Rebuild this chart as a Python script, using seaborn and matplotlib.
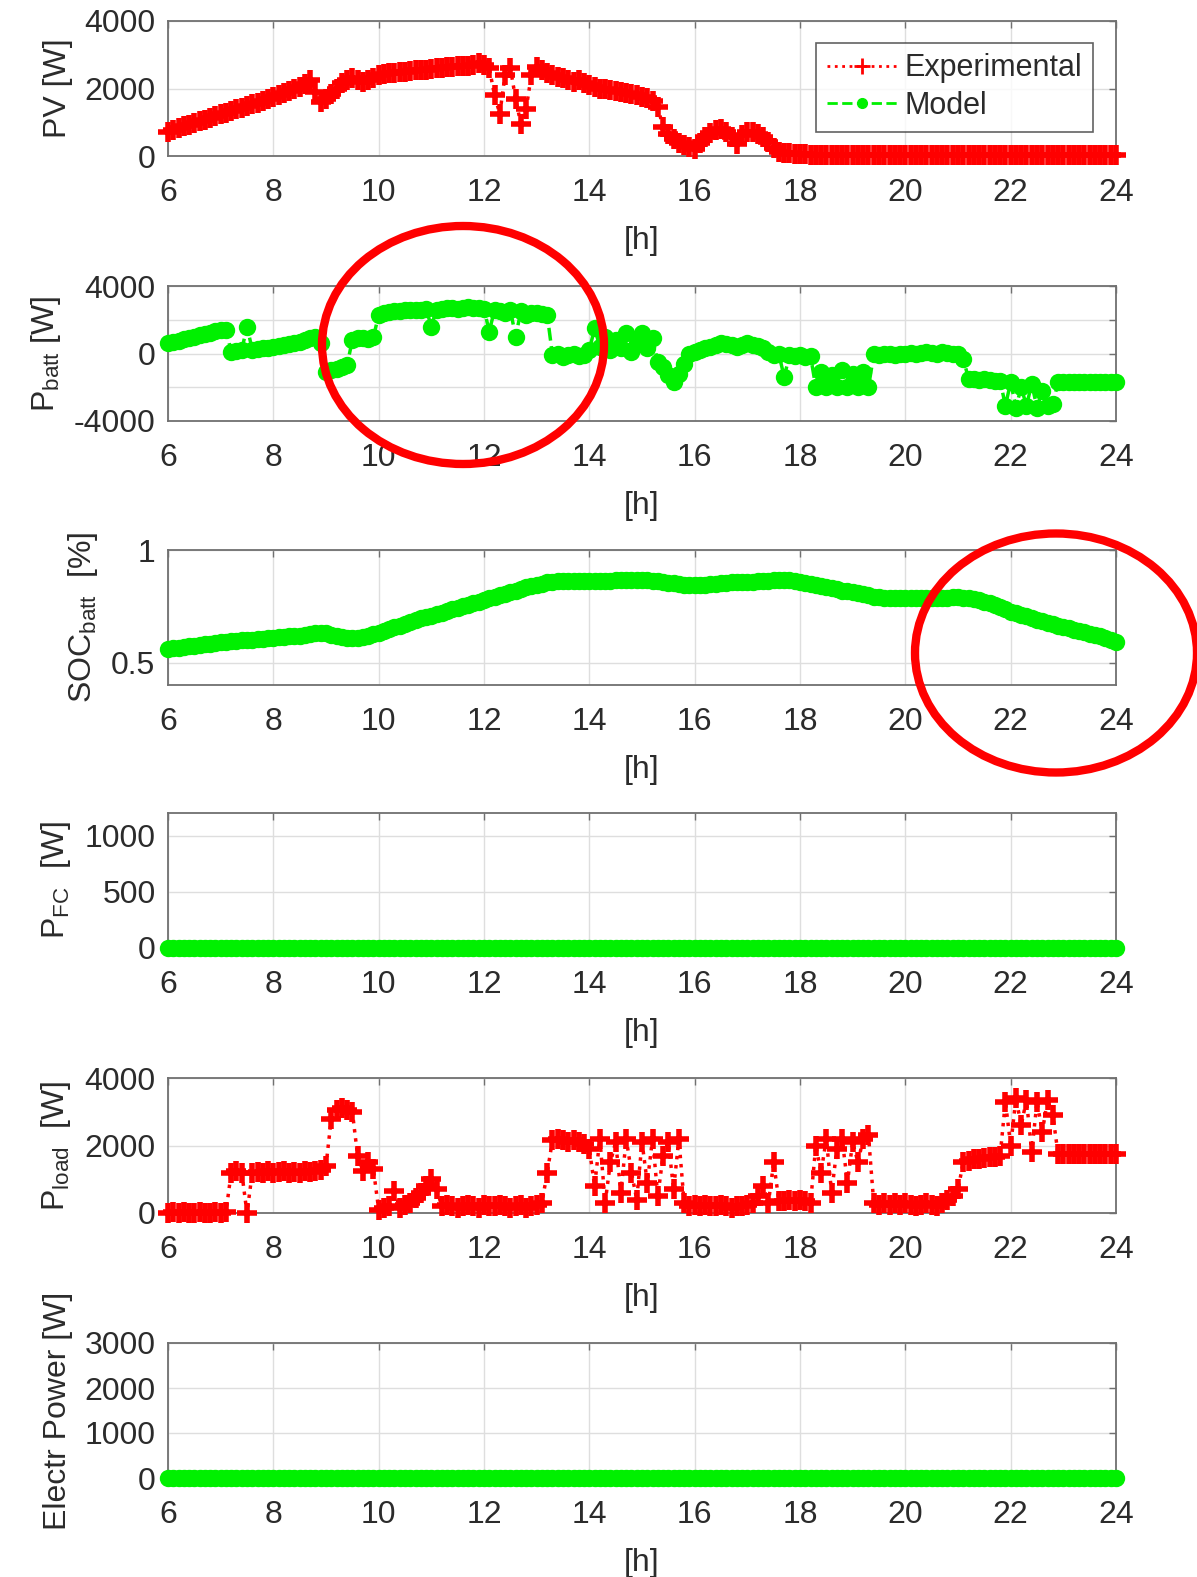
import numpy as np
import pandas as pd
import matplotlib
matplotlib.use("Agg")
import matplotlib.pyplot as plt
import seaborn as sns
from matplotlib.lines import Line2D
from matplotlib.patches import Ellipse

# ---------------- data (0.1 h resolution) ----------------
hours = np.round(np.linspace(6, 24, 181), 1)

pv_exp = (
    [700, 760, 820, 880, 930, 980, 1030, 1080, 1130, 1180] +          # 6
    [1230, 1280, 1330, 1380, 1430, 1480, 1530, 1580, 1640, 1700] +    # 7
    [1760, 1820, 1880, 1940, 1990, 2040, 2120, 2250, 1900, 1600] +    # 8
    [1700, 1850, 2000, 2150, 2250, 2300, 2250, 2200, 2260, 2320] +    # 9
    [2400, 2430, 2450, 2470, 2490, 2500, 2520, 2540, 2550, 2560] +    # 10
    [2580, 2600, 2620, 2640, 2650, 2660, 2670, 2680, 2700, 2750] +    # 11
    [2700, 2600, 1800, 1250, 2400, 2600, 1700, 950, 1400, 2400] +     # 12
    [2650, 2550, 2450, 2400, 2350, 2300, 2250, 2200, 2250, 2150] +    # 13
    [2100, 2050, 2000, 1980, 1950, 1920, 1890, 1860, 1830, 1800] +    # 14
    [1760, 1720, 1620, 1450, 850, 650, 500, 400, 320, 260] +          # 15
    [200, 380, 550, 680, 780, 800, 700, 560, 350, 620] +              # 16
    [720, 720, 650, 550, 420, 250, 130, 90, 80, 70] +                 # 17
    [60, 50, 40, 30, 30, 30, 30, 30, 30, 30] +                        # 18
    [30, 30, 30, 30, 30, 30, 30, 30, 30, 30] +                        # 19
    [30, 30, 30, 30, 30, 30, 30, 30, 30, 30] +                        # 20
    [30, 30, 30, 30, 30, 30, 30, 30, 30, 30] +                        # 21
    [30, 30, 30, 30, 30, 30, 30, 30, 30, 30] +                        # 22
    [30, 30, 30, 30, 30, 30, 30, 30, 30, 30] +                        # 23
    [30]                                                              # 24
)

p_batt_model = (
    [600, 680, 760, 840, 920, 1000, 1080, 1160, 1240, 1320] +
    [1380, 1420, 100, 150, 200, 1600, 220, 260, 300, 350] +
    [400, 450, 500, 550, 600, 700, 800, 900, 950, 600] +
    [-1100, -1000, -900, -800, -700, 800, 900, 900, 850, 950] +
    [2300, 2400, 2450, 2500, 2500, 2550, 2600, 2550, 2600, 2650] +
    [1600, 2600, 2650, 2700, 2700, 2650, 2700, 2750, 2700, 2700] +
    [2650, 1300, 2600, 2500, 2400, 2600, 1000, 2500, 2300, 2400] +
    [2400, 2350, 2300, -100, 0, -200, -100, 0, -150, -100] +
    [200, 1500, 400, 1000, 200, 800, 300, 1200, 100, 600] +
    [1200, 300, 900, -500, -800, -1300, -1700, -1200, -600, 0] +
    [100, 200, 300, 400, 500, 600, 550, 500, 400, 500] +
    [600, 500, 450, 350, 100, -100, -50, -1400, -100, -150] +
    [-100, -200, -150, -2000, -1100, -2000, -1300, -2000, -1000, -2000] +
    [-1200, -2000, -1100, -2000, -50, -100, -50, 0, -100, -50] +
    [0, 50, 0, 50, 100, 50, 0, 100, 50, 0] +
    [-50, -300, -1500, -1500, -1550, -1500, -1550, -1600, -1600, -3100] +
    [-1700, -3200, -2000, -3100, -1800, -3200, -2200, -3100, -3000, -1700] +
    [-1700, -1700, -1700, -1700, -1700, -1700, -1700, -1700, -1700, -1700] +
    [-1700]
)

soc_model = (
    [0.560, 0.563, 0.566, 0.569, 0.572, 0.575, 0.578, 0.581, 0.584, 0.587] +
    [0.590, 0.592, 0.594, 0.596, 0.598, 0.600, 0.602, 0.604, 0.606, 0.608] +
    [0.610, 0.612, 0.614, 0.616, 0.618, 0.620, 0.623, 0.626, 0.629, 0.632] +
    [0.630, 0.624, 0.618, 0.613, 0.610, 0.608, 0.610, 0.614, 0.620, 0.626] +
    [0.632, 0.640, 0.648, 0.656, 0.664, 0.672, 0.680, 0.688, 0.696, 0.704] +
    [0.708, 0.715, 0.722, 0.729, 0.736, 0.743, 0.750, 0.757, 0.764, 0.771] +
    [0.778, 0.785, 0.792, 0.799, 0.806, 0.813, 0.820, 0.827, 0.834, 0.841] +
    [0.846, 0.851, 0.856, 0.860, 0.862, 0.862, 0.862, 0.862, 0.862, 0.862] +
    [0.862, 0.862, 0.863, 0.864, 0.864, 0.865, 0.866, 0.866, 0.867, 0.867] +
    [0.867, 0.866, 0.864, 0.861, 0.858, 0.855, 0.852, 0.849, 0.846, 0.844] +
    [0.843, 0.844, 0.846, 0.848, 0.850, 0.852, 0.854, 0.856, 0.857, 0.858] +
    [0.859, 0.860, 0.861, 0.862, 0.864, 0.866, 0.866, 0.866, 0.865, 0.862] +
    [0.858, 0.854, 0.850, 0.845, 0.840, 0.835, 0.830, 0.825, 0.820, 0.816] +
    [0.812, 0.808, 0.803, 0.798, 0.793, 0.789, 0.787, 0.786, 0.785, 0.785] +
    [0.785, 0.785, 0.785, 0.785, 0.785, 0.786, 0.786, 0.787, 0.788, 0.789] +
    [0.789, 0.788, 0.785, 0.781, 0.776, 0.770, 0.764, 0.755, 0.746, 0.736] +
    [0.726, 0.719, 0.712, 0.705, 0.698, 0.691, 0.684, 0.677, 0.670, 0.664] +
    [0.658, 0.652, 0.646, 0.640, 0.634, 0.628, 0.622, 0.616, 0.608, 0.600] +
    [0.592]
)

p_fc_model = [0.0] * len(hours)          # fuel cell idle all day

p_load_exp = (
    [0, 20, 0, 30, 10, 0, 20, 10, 0, 30] +
    [10, 20, 1200, 1250, 1200, 0, 1200, 1220, 1200, 1230] +
    [1200, 1210, 1230, 1200, 1220, 1200, 1230, 1210, 1250, 1280] +
    [1400, 2800, 3050, 3100, 3050, 3000, 1700, 1250, 1500, 1300] +
    [100, 150, 200, 650, 150, 250, 300, 450, 600, 800] +
    [1000, 700, 200, 250, 200, 150, 200, 250, 200, 150] +
    [250, 200, 200, 250, 200, 150, 200, 250, 150, 200] +
    [250, 300, 1200, 2150, 2200, 2150, 2100, 2150, 2100, 2050] +
    [1900, 800, 2200, 300, 1500, 2100, 600, 2200, 1200, 400] +
    [2100, 900, 2200, 500, 1700, 2100, 700, 2200, 300, 200] +
    [250, 200, 250, 200, 200, 250, 200, 150, 200, 200] +
    [250, 300, 500, 800, 300, 1500, 350, 350, 400, 350] +
    [400, 350, 300, 2000, 1200, 2200, 600, 1900, 2200, 900] +
    [2100, 1500, 2200, 2300, 300, 250, 300, 250, 300, 250] +
    [300, 250, 200, 250, 300, 250, 200, 300, 400, 500] +
    [700, 1500, 1550, 1600, 1600, 1620, 1650, 1650, 1700, 3300] +
    [2000, 3400, 2600, 3350, 1800, 3300, 2400, 3350, 2900, 1750] +
    [1750, 1760, 1750, 1740, 1750, 1760, 1750, 1740, 1760, 1750] +
    [1760]
)

p_electr_model = [0.0] * len(hours)      # electrolyser idle all day

x_ticks = [6, 8, 10, 12, 14, 16, 18, 20, 22, 24]
legend_labels = ["Experimental", "Model"]

# ---------------- style ----------------
sns.set_theme(style="white")
plt.rcParams["font.family"] = ["Liberation Sans", "DejaVu Sans"]
plt.rcParams["mathtext.fontset"] = "custom"
plt.rcParams["mathtext.rm"] = "Liberation Sans"
plt.rcParams["mathtext.it"] = "Liberation Sans:italic"
plt.rcParams["mathtext.default"] = "regular"

RED = "#ff0000"
GREEN = "#00f000"
TXT = "#2b2b2b"
SPINE = "#707070"
GRID = "#dedede"
FS = 23

exp_style = dict(color=RED, linestyle=":", linewidth=2.5, marker="+",
                 markersize=14, markeredgewidth=4, markeredgecolor=RED)
mod_style = dict(color=GREEN, linestyle="--", linewidth=2.5, marker="o",
                 markersize=11, markeredgewidth=1.5, markeredgecolor=GREEN,
                 markerfacecolor=GREEN)

panels = [
    dict(y=pv_exp, style=exp_style, ylim=(0, 4000), yticks=[0, 2000, 4000],
         yticklabels=["0", "2000", "4000"], ylabel="PV [W]"),
    dict(y=p_batt_model, style=mod_style, ylim=(-4000, 4000),
         yticks=[-4000, -2000, 0, 2000, 4000],
         yticklabels=["-4000", "", "0", "", "4000"],
         ylabel=r"P$_{\mathrm{batt}}$ [W]"),
    dict(y=soc_model, style=mod_style, ylim=(0.4, 1.0), yticks=[0.5, 1.0],
         yticklabels=["0.5", "1"], ylabel=r"SOC$_{\mathrm{batt}}$  [%]"),
    dict(y=p_fc_model, style=mod_style, ylim=(0, 1200), yticks=[0, 500, 1000],
         yticklabels=["0", "500", "1000"], ylabel=r"P$_{\mathrm{FC}}$  [W]"),
    dict(y=p_load_exp, style=exp_style, ylim=(0, 4000), yticks=[0, 2000, 4000],
         yticklabels=["0", "2000", "4000"], ylabel=r"P$_{\mathrm{load}}$  [W]"),
    dict(y=p_electr_model, style=mod_style, ylim=(0, 3000),
         yticks=[0, 1000, 2000, 3000],
         yticklabels=["0", "1000", "2000", "3000"], ylabel="Electr Power [W]"),
]

fig = plt.figure(figsize=(11.97, 15.77), dpi=100)
W, H = 1197, 1577
ax_left, ax_right = 168, 1116
ax_tops = [21, 286, 550, 813, 1078, 1343]
ax_h = 135

for p, top in zip(panels, ax_tops):
    ax = fig.add_axes([ax_left / W, 1 - (top + ax_h) / H,
                       (ax_right - ax_left) / W, ax_h / H])
    df = pd.DataFrame({"h": hours, "v": p["y"]})
    sns.lineplot(data=df, x="h", y="v", ax=ax, estimator=None, sort=False,
                 clip_on=False, zorder=3, **p["style"])
    ax.set_xlim(6, 24)
    ax.set_ylim(*p["ylim"])
    ax.set_xticks(x_ticks)
    ax.set_xticklabels([str(t) for t in x_ticks])
    ax.set_yticks(p["yticks"])
    ax.set_yticklabels(p["yticklabels"])
    ax.grid(True, color=GRID, linewidth=1.0)
    ax.set_axisbelow(True)
    for s in ax.spines.values():
        s.set_visible(True)
        s.set_color(SPINE)
        s.set_linewidth(1.3)
    ax.tick_params(axis="both", direction="in", length=5, width=1,
                   color=SPINE, labelsize=FS, labelcolor=TXT,
                   top=True, right=True)
    ax.tick_params(axis="x", pad=16)
    ax.tick_params(axis="y", pad=9)
    ax.set_xlabel("[h]", fontsize=FS, color=TXT, labelpad=13)
    ax.set_ylabel(p["ylabel"], fontsize=FS, color=TXT, labelpad=8)
    ax.set_facecolor("white")

    if top == ax_tops[0]:
        h_exp = Line2D([], [], color=RED, linestyle=":", linewidth=2,
                       marker="+", markersize=12, markeredgewidth=2)
        h_mod = Line2D([], [], color=GREEN, linestyle="--", linewidth=2,
                       marker="o", markersize=7)
        leg = ax.legend([h_exp, h_mod], legend_labels, loc="upper right",
                        bbox_to_anchor=(0.976, 0.84), borderaxespad=0,
                        fontsize=22, frameon=True, fancybox=False,
                        handlelength=2.3, handletextpad=0.25,
                        borderpad=0.35, labelspacing=0.25)
        leg.get_frame().set_edgecolor("#3a3a3a")
        leg.get_frame().set_linewidth(1.2)
        for t in leg.get_texts():
            t.set_color(TXT)

# red highlight ellipses drawn on the figure
for cx, cy, ew, eh in [(463, 345, 282, 238), (1056, 653, 282, 239)]:
    e = Ellipse((cx / W, 1 - cy / H), ew / W, eh / H,
                transform=fig.transFigure, fill=False,
                edgecolor=RED, linewidth=6, zorder=10)
    fig.add_artist(e)

fig.savefig("out.png", dpi=100)
